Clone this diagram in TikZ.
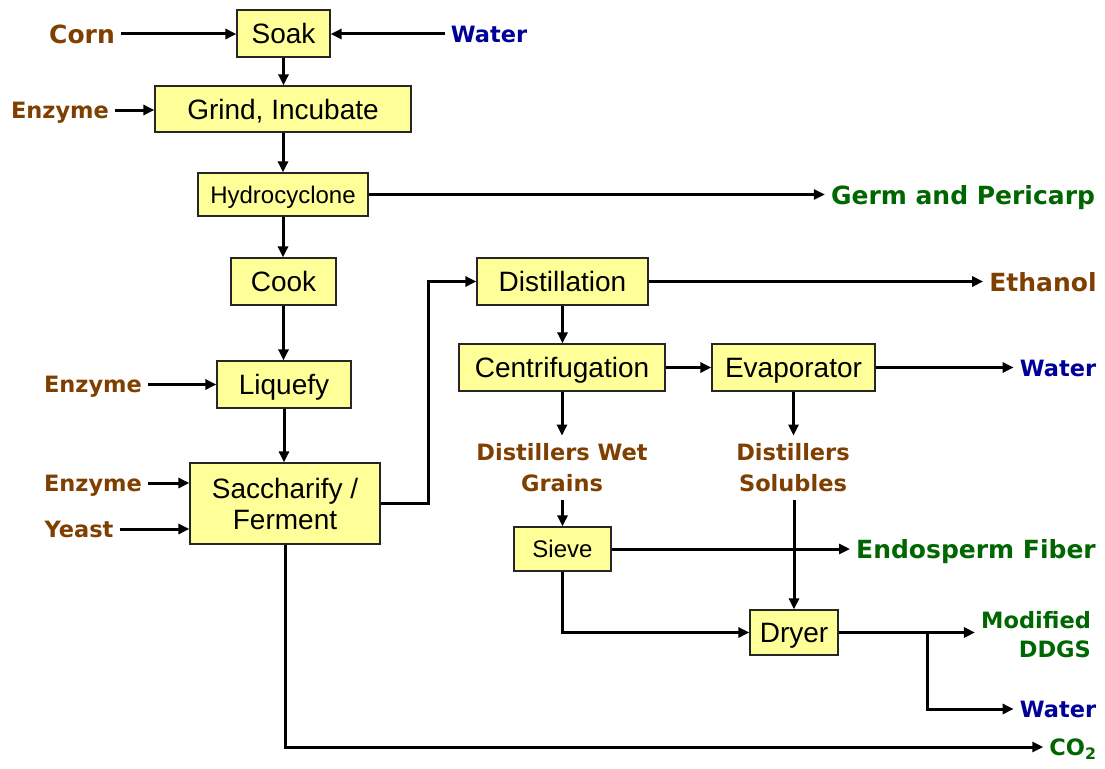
\documentclass[tikz,border=0pt]{standalone}
\usepackage{fontspec}
\setmainfont{Liberation Sans}
\newfontfamily\labelfont{DejaVu Sans}
\usetikzlibrary{arrows.meta}
\definecolor{boxfill}{HTML}{FFFF99}
\definecolor{inbrown}{HTML}{7F3F00}
\definecolor{waterblue}{HTML}{000099}
\definecolor{outgreen}{HTML}{006600}

\begin{document}
\begin{tikzpicture}[
  x=1pt, y=-1pt,
  box/.style={
    rectangle, draw=black!85, line width=1.2pt,
    fill=boxfill, inner sep=0pt, align=center,
    font=\fontsize{28}{31}\selectfont
  },
  unit/.style={box, text height=21pt, text depth=1pt},
  smallunit/.style={box, font=\fontsize{24}{28}\selectfont, text height=18pt, text depth=1pt},
  feedtwo/.style={font=\labelfont\bfseries\fontsize{22.5}{31}\selectfont, inner sep=8pt, align=center},
  feed/.style={font=\labelfont\bfseries\fontsize{22.5}{31}\selectfont, inner sep=6pt,
    text height=16.4pt, text depth=0pt},
  major/.style={font=\labelfont\bfseries\fontsize{25}{31}\selectfont, inner sep=6pt,
    text height=18.2pt, text depth=0pt},
  flow/.style={line width=3pt, -{Triangle[length=11pt,width=10pt]}}
]
\useasboundingbox (0,0) rectangle (1105,768);

% process units
\node[unit, minimum width=93, minimum height=47] (soak) at (283.5,33.5) {Soak};
\node[unit, minimum width=256, minimum height=46] (grind) at (283,109) {Grind, Incubate};
\node[smallunit, minimum width=170, minimum height=43] (hydro) at (283,194.5) {Hydrocyclone};
\node[unit, minimum width=105, minimum height=47] (cook) at (283.5,281.5) {Cook};
\node[unit, minimum width=134, minimum height=47] (liquefy) at (284,384.5) {Liquefy};
\node[box, minimum width=190, minimum height=81] (sacch) at (285,503.5) {Saccharify /\\Ferment};
\node[unit, minimum width=171, minimum height=47] (distil) at (562.5,281.5) {Distillation};
\node[unit, minimum width=206, minimum height=47] (centri) at (562,367.5) {Centrifugation};
\node[unit, minimum width=163, minimum height=47] (evap) at (793.5,367.5) {Evaporator};
\node[smallunit, minimum width=97, minimum height=44] (sieve) at (562.5,549) {Sieve};
\node[unit, minimum width=88, minimum height=45] (dryer) at (794,632.5) {Dryer};

% feeds
\node[major, text=inbrown] (corn) at (82,34) {Corn};
\node[feed, text=waterblue] (water1) at (489,34) {Water};
\node[feed, text=inbrown] (enz1) at (60,110) {Enzyme};
\node[feed, text=inbrown] (enz2) at (93,384.5) {Enzyme};
\node[feed, text=inbrown] (enz3) at (93,483) {Enzyme};
\node[feed, text=inbrown] (yeast) at (79,529) {Yeast};

% products
\node[major, text=outgreen] (germ) at (963,195) {Germ and Pericarp};
\node[major, text=inbrown] (ethanol) at (1043,282) {Ethanol};
\node[feed, text=waterblue] (water2) at (1058,368) {Water};
\node[feedtwo, text=inbrown] (dwg) at (562,468) {Distillers Wet\\Grains};
\node[feedtwo, text=inbrown] (dsol) at (793,468) {Distillers\\Solubles};
\node[major, text=outgreen] (endo) at (976,549) {Endosperm Fiber};
\node[feedtwo, text=outgreen, align=right, inner sep=6pt,
  font=\labelfont\bfseries\fontsize{22.5}{29}\selectfont] (ddgs) at (1036,635) {Modified\\DDGS};
\node[feed, text=waterblue] (water3) at (1058,709) {Water};
\node[feed, text=outgreen] (co2) at (1073,747) {CO\textsubscript{2}};

% main line
\draw[flow] (corn) -- (corn -| soak.west);
\draw[flow] (water1) -- (water1 -| soak.east);
\draw[flow] (soak.south) -- (soak.south |- grind.north);
\draw[flow] (enz1) -- (enz1 -| grind.west);
\draw[flow] (grind.south) -- (grind.south |- hydro.north);
\draw[flow] (hydro.east) -- (hydro.east -| germ.west);
\draw[flow] (hydro.south) -- (hydro.south |- cook.north);
\draw[flow] (cook.south) -- (cook.south |- liquefy.north);
\draw[flow] (enz2) -- (enz2 -| liquefy.west);
\draw[flow] (liquefy.south) -- (liquefy.south |- sacch.north);
\draw[flow] (enz3) -- (enz3 -| sacch.west);
\draw[flow] (yeast) -- (yeast -| sacch.west);
\draw[flow] (sacch.east) -- ++(48,0) |- (distil.west);
\draw[flow] (sacch.south) |- (co2.west);

% back end
\draw[flow] (distil.east) -- (distil.east -| ethanol.west);
\draw[flow] (distil.south) -- (distil.south |- centri.north);
\draw[flow] (centri.east) -- (evap.west);
\draw[flow] (evap.east) -- (evap.east -| water2.west);
\draw[flow] (centri.south) -- (centri.south |- dwg.north);
\draw[flow] (evap.south) -- (evap.south |- dsol.north);
\draw[flow] (dwg.south -| sieve.north) -- (sieve.north);
\draw[flow] (sieve.east) -- (sieve.east -| endo.west);
\draw[flow] (dsol.south -| dryer.north) -- (dryer.north);
\draw[flow] (sieve.south) |- (dryer.west);
\draw[flow] (dryer.east) -- (dryer.east -| ddgs.west);
\coordinate (split) at ([xshift=89pt]dryer.east);
\draw[flow] (split) |- (water3.west);
\end{tikzpicture}
\end{document}
